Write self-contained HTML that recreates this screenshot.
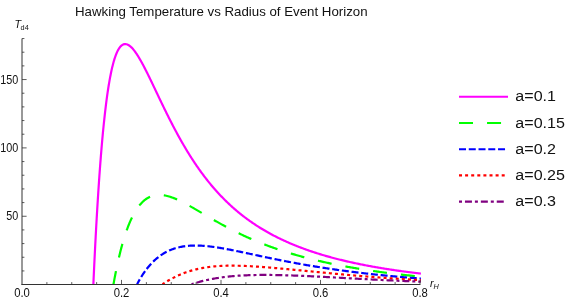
<!DOCTYPE html>
<html><head><meta charset="utf-8"><title>Hawking Temperature vs Radius of Event Horizon</title>
<style>
html,body{margin:0;padding:0;background:#fff;}
body{width:575px;height:300px;overflow:hidden;font-family:"Liberation Sans",sans-serif;}
svg{display:block;}
text{font-family:"Liberation Sans",sans-serif;fill:#111;}
.tk{font-size:12.0px;}
.lg{font-size:15.5px;}
</style></head><body>
<svg width="575" height="300" viewBox="0 0 575 300">
<rect width="575" height="300" fill="#fff"/>
<g style="will-change:transform"><text transform="translate(221.3,15.7) scale(1.038,1)" text-anchor="middle" font-size="12.8">Hawking Temperature vs Radius of Event Horizon</text></g>
<defs><clipPath id="pc"><rect x="0" y="0" width="421.00" height="284.3"/></clipPath></defs>
<g fill="none" stroke-linecap="butt" stroke-linejoin="round" clip-path="url(#pc)">
<path d="M93.37,284.30 L93.41,283.30 L93.46,282.30 L93.50,281.30 L93.55,280.30 L93.59,279.30 L93.64,278.30 L93.68,277.30 L93.73,276.30 L93.78,275.30 L93.82,274.30 L93.87,273.30 L93.92,272.30 L93.96,271.30 L94.01,270.30 L94.06,269.30 L94.10,268.30 L94.15,267.30 L94.20,266.30 L94.24,265.30 L94.29,264.30 L94.34,263.30 L94.39,262.30 L94.44,261.30 L94.48,260.30 L94.53,259.30 L94.58,258.30 L94.63,257.30 L94.68,256.30 L94.73,255.30 L94.78,254.31 L94.83,253.31 L94.88,252.31 L94.93,251.31 L94.98,250.31 L95.03,249.31 L95.08,248.31 L95.13,247.31 L95.18,246.31 L95.23,245.31 L95.28,244.31 L95.33,243.31 L95.39,242.31 L95.44,241.31 L95.49,240.31 L95.54,239.31 L95.60,238.31 L95.65,237.31 L95.70,236.31 L95.75,235.31 L95.81,234.31 L95.86,233.31 L95.92,232.31 L95.97,231.31 L96.02,230.31 L96.08,229.32 L96.13,228.32 L96.19,227.32 L96.24,226.32 L96.30,225.32 L96.35,224.32 L96.41,223.32 L96.47,222.32 L96.52,221.32 L96.58,220.32 L96.64,219.32 L96.69,218.32 L96.75,217.32 L96.81,216.32 L96.87,215.32 L96.93,214.33 L96.98,213.33 L97.04,212.33 L97.10,211.33 L97.16,210.33 L97.22,209.33 L97.28,208.33 L97.34,207.33 L97.40,206.33 L97.46,205.33 L97.52,204.33 L97.58,203.33 L97.65,202.34 L97.71,201.34 L97.77,200.34 L97.83,199.34 L97.89,198.34 L97.96,197.34 L98.02,196.34 L98.09,195.34 L98.15,194.34 L98.21,193.35 L98.28,192.35 L98.34,191.35 L98.41,190.35 L98.47,189.35 L98.54,188.35 L98.61,187.35 L98.67,186.35 L98.74,185.36 L98.81,184.36 L98.88,183.36 L98.94,182.36 L99.01,181.36 L99.08,180.36 L99.15,179.36 L99.22,178.37 L99.29,177.37 L99.36,176.37 L99.43,175.37 L99.50,174.37 L99.58,173.37 L99.65,172.37 L99.72,171.38 L99.79,170.38 L99.87,169.38 L99.94,168.38 L100.01,167.38 L100.09,166.39 L100.16,165.39 L100.24,164.39 L100.32,163.39 L100.39,162.39 L100.47,161.40 L100.55,160.40 L100.63,159.40 L100.70,158.40 L100.78,157.40 L100.86,156.41 L100.94,155.41 L101.02,154.41 L101.11,153.41 L101.19,152.42 L101.27,151.42 L101.35,150.42 L101.44,149.42 L101.52,148.43 L101.60,147.43 L101.69,146.43 L101.78,145.43 L101.86,144.44 L101.95,143.44 L102.04,142.44 L102.13,141.45 L102.21,140.45 L102.30,139.45 L102.39,138.45 L102.49,137.46 L102.58,136.46 L102.67,135.46 L102.76,134.47 L102.86,133.47 L102.95,132.47 L103.05,131.48 L103.14,130.48 L103.24,129.49 L103.34,128.49 L103.44,127.49 L103.54,126.50 L103.64,125.50 L103.74,124.51 L103.84,123.51 L103.94,122.51 L104.05,121.52 L104.15,120.52 L104.26,119.53 L104.37,118.53 L104.47,117.54 L104.58,116.54 L104.69,115.55 L104.80,114.55 L104.92,113.56 L105.03,112.56 L105.14,111.57 L105.26,110.58 L105.38,109.58 L105.50,108.59 L105.62,107.59 L105.74,106.60 L105.86,105.61 L105.98,104.61 L106.11,103.62 L106.23,102.63 L106.36,101.64 L106.49,100.64 L106.62,99.65 L106.75,98.66 L106.89,97.67 L107.02,96.67 L107.16,95.68 L107.30,94.69 L107.44,93.70 L107.59,92.71 L107.73,91.72 L107.88,90.73 L108.03,89.74 L108.18,88.75 L108.33,87.76 L108.49,86.77 L108.65,85.78 L108.81,84.80 L108.97,83.81 L109.14,82.82 L109.31,81.84 L109.48,80.85 L109.65,79.86 L109.83,78.88 L110.01,77.89 L110.20,76.91 L110.39,75.93 L110.58,74.95 L110.77,73.96 L110.97,72.98 L111.18,72.00 L111.39,71.02 L111.60,70.05 L111.82,69.07 L112.04,68.09 L112.27,67.12 L112.51,66.15 L112.75,65.18 L113.00,64.21 L113.26,63.24 L113.52,62.27 L113.79,61.31 L114.07,60.35 L114.37,59.39 L114.67,58.44 L114.98,57.49 L115.30,56.54 L115.64,55.60 L116.00,54.66 L116.37,53.73 L116.76,52.81 L117.17,51.90 L117.60,51.00 L118.06,50.11 L118.56,49.24 L119.09,48.39 L119.66,47.57 L120.28,46.78 L120.96,46.05 L121.71,45.39 L122.54,44.82 L123.44,44.40 L124.41,44.14 L125.41,44.08 L126.40,44.22 L127.35,44.51 L128.26,44.94 L129.11,45.46 L129.92,46.05 L130.69,46.69 L131.42,47.37 L132.12,48.09 L132.79,48.83 L133.44,49.59 L134.06,50.37 L134.67,51.17 L135.27,51.97 L135.84,52.79 L136.41,53.62 L136.96,54.45 L137.51,55.29 L138.04,56.14 L138.57,56.99 L139.08,57.85 L139.59,58.71 L140.10,59.57 L140.60,60.44 L141.09,61.31 L141.57,62.19 L142.06,63.07 L142.53,63.95 L143.01,64.83 L143.48,65.71 L143.94,66.60 L144.40,67.48 L144.86,68.37 L145.32,69.26 L145.78,70.16 L146.23,71.05 L146.68,71.94 L147.12,72.84 L147.57,73.74 L148.01,74.63 L148.46,75.53 L148.90,76.43 L149.34,77.33 L149.77,78.23 L150.21,79.13 L150.65,80.03 L151.08,80.93 L151.52,81.83 L151.95,82.74 L152.38,83.64 L152.81,84.54 L153.25,85.44 L153.68,86.35 L154.11,87.25 L154.54,88.15 L154.97,89.06 L155.40,89.96 L155.83,90.87 L156.26,91.77 L156.69,92.67 L157.12,93.58 L157.55,94.48 L157.98,95.38 L158.41,96.29 L158.84,97.19 L159.27,98.10 L159.70,99.00 L160.14,99.90 L160.57,100.80 L161.00,101.71 L161.44,102.61 L161.87,103.51 L162.31,104.41 L162.74,105.31 L163.18,106.21 L163.62,107.11 L164.05,108.01 L164.49,108.91 L164.93,109.81 L165.37,110.71 L165.82,111.61 L166.26,112.51 L166.70,113.40 L167.15,114.30 L167.59,115.20 L168.04,116.09 L168.49,116.99 L168.94,117.88 L169.39,118.77 L169.84,119.67 L170.30,120.56 L170.75,121.45 L171.21,122.34 L171.66,123.23 L172.12,124.12 L172.58,125.01 L173.05,125.90 L173.51,126.78 L173.98,127.67 L174.44,128.56 L174.91,129.44 L175.38,130.32 L175.85,131.21 L176.33,132.09 L176.80,132.97 L177.28,133.85 L177.76,134.73 L178.24,135.61 L178.72,136.48 L179.21,137.36 L179.70,138.23 L180.18,139.11 L180.67,139.98 L181.17,140.85 L181.66,141.72 L182.16,142.59 L182.66,143.46 L183.16,144.32 L183.66,145.19 L184.17,146.05 L184.68,146.91 L185.19,147.78 L185.70,148.64 L186.21,149.49 L186.73,150.35 L187.25,151.21 L187.77,152.06 L188.30,152.91 L188.82,153.76 L189.35,154.61 L189.88,155.46 L190.42,156.31 L190.95,157.15 L191.49,158.00 L192.04,158.84 L192.58,159.68 L193.13,160.52 L193.68,161.35 L194.23,162.19 L194.79,163.02 L195.34,163.85 L195.91,164.68 L196.47,165.51 L197.04,166.33 L197.61,167.15 L198.18,167.97 L198.75,168.79 L199.33,169.61 L199.91,170.43 L200.50,171.24 L201.09,172.05 L201.68,172.86 L202.27,173.66 L202.87,174.47 L203.47,175.27 L204.07,176.07 L204.67,176.86 L205.28,177.66 L205.89,178.45 L206.51,179.24 L207.13,180.03 L207.75,180.81 L208.38,181.59 L209.00,182.37 L209.64,183.15 L210.27,183.92 L210.91,184.69 L211.55,185.46 L212.19,186.23 L212.84,186.99 L213.49,187.75 L214.15,188.51 L214.81,189.26 L215.47,190.01 L216.13,190.76 L216.80,191.51 L217.47,192.25 L218.15,192.99 L218.83,193.72 L219.51,194.45 L220.20,195.18 L220.88,195.91 L221.58,196.63 L222.27,197.35 L222.97,198.07 L223.68,198.78 L224.38,199.49 L225.09,200.20 L225.80,200.90 L226.52,201.60 L227.24,202.29 L227.96,202.98 L228.69,203.67 L229.42,204.36 L230.15,205.04 L230.89,205.72 L231.63,206.39 L232.38,207.06 L233.12,207.72 L233.87,208.39 L234.63,209.05 L235.39,209.70 L236.15,210.35 L236.91,211.00 L237.68,211.64 L238.45,212.28 L239.22,212.91 L240.00,213.54 L240.78,214.17 L241.56,214.79 L242.35,215.41 L243.14,216.03 L243.93,216.64 L244.73,217.25 L245.53,217.85 L246.33,218.45 L247.13,219.04 L247.94,219.63 L248.75,220.22 L249.57,220.80 L250.39,221.38 L251.21,221.95 L252.03,222.52 L252.85,223.09 L253.68,223.65 L254.51,224.21 L255.35,224.76 L256.19,225.31 L257.03,225.85 L257.87,226.39 L258.71,226.93 L259.56,227.46 L260.41,227.99 L261.26,228.51 L262.12,229.03 L262.98,229.55 L263.84,230.06 L264.70,230.57 L265.57,231.07 L266.43,231.57 L267.30,232.06 L268.18,232.55 L269.05,233.04 L269.93,233.52 L270.81,234.00 L271.69,234.48 L272.57,234.95 L273.46,235.41 L274.35,235.88 L275.24,236.33 L276.13,236.79 L277.02,237.24 L277.92,237.69 L278.81,238.13 L279.71,238.57 L280.62,239.00 L281.52,239.43 L282.42,239.86 L283.33,240.28 L284.24,240.70 L285.15,241.12 L286.06,241.53 L286.98,241.94 L287.89,242.35 L288.81,242.75 L289.73,243.14 L290.65,243.54 L291.57,243.93 L292.49,244.32 L293.42,244.70 L294.34,245.08 L295.27,245.46 L296.20,245.83 L297.13,246.20 L298.06,246.56 L298.99,246.93 L299.93,247.29 L300.86,247.64 L301.80,247.99 L302.74,248.34 L303.68,248.69 L304.62,249.03 L305.56,249.37 L306.50,249.71 L307.45,250.04 L308.39,250.37 L309.34,250.70 L310.28,251.03 L311.23,251.35 L312.18,251.66 L313.13,251.98 L314.08,252.29 L315.03,252.60 L315.99,252.91 L316.94,253.21 L317.89,253.51 L318.85,253.81 L319.81,254.11 L320.76,254.40 L321.72,254.69 L322.68,254.97 L323.64,255.26 L324.60,255.54 L325.56,255.82 L326.52,256.10 L327.49,256.37 L328.45,256.64 L329.41,256.91 L330.38,257.18 L331.34,257.44 L332.31,257.70 L333.28,257.96 L334.25,258.22 L335.21,258.47 L336.18,258.72 L337.15,258.97 L338.12,259.22 L339.09,259.46 L340.06,259.70 L341.04,259.94 L342.01,260.18 L342.98,260.42 L343.95,260.65 L344.93,260.88 L345.90,261.11 L346.88,261.34 L347.85,261.56 L348.83,261.79 L349.80,262.01 L350.78,262.23 L351.76,262.44 L352.74,262.66 L353.71,262.87 L354.69,263.08 L355.67,263.29 L356.65,263.50 L357.63,263.70 L358.61,263.91 L359.59,264.11 L360.57,264.31 L361.55,264.51 L362.53,264.70 L363.52,264.90 L364.50,265.09 L365.48,265.28 L366.46,265.47 L367.45,265.65 L368.43,265.84 L369.41,266.02 L370.40,266.20 L371.38,266.38 L372.37,266.56 L373.35,266.74 L374.34,266.92 L375.32,267.09 L376.31,267.26 L377.30,267.43 L378.28,267.60 L379.27,267.77 L380.26,267.94 L381.24,268.10 L382.23,268.26 L383.22,268.42 L384.21,268.58 L385.20,268.74 L386.19,268.90 L387.17,269.06 L388.16,269.21 L389.15,269.36 L390.14,269.51 L391.13,269.67 L392.12,269.81 L393.11,269.96 L394.10,270.11 L395.09,270.25 L396.08,270.40 L397.07,270.54 L398.06,270.68 L399.05,270.82 L400.05,270.96 L401.04,271.09 L402.03,271.23 L403.02,271.36 L404.01,271.50 L405.01,271.63 L406.00,271.76 L406.99,271.89 L407.98,272.02 L408.98,272.15 L409.97,272.27 L410.96,272.40 L411.95,272.52 L412.95,272.65 L413.94,272.77 L414.94,272.89 L415.93,273.01 L416.92,273.13 L417.92,273.24 L418.91,273.36 L419.91,273.47 L420.90,273.59" stroke="#ff00ff" stroke-width="2.2"/>
<path d="M113.48,284.30 L113.66,283.32 L113.84,282.33 L114.01,281.35 L114.20,280.36 L114.38,279.38 L114.56,278.40 L114.75,277.41 L114.93,276.43 L115.12,275.45 L115.31,274.47 L115.51,273.48 L115.70,272.50 L115.90,271.52 L116.09,270.54 L116.29,269.56 L116.50,268.58 L116.70,267.60 L116.91,266.62 L117.11,265.64 L117.32,264.67 L117.54,263.69 L117.75,262.71 L117.97,261.73 L118.19,260.76 L118.41,259.78 L118.63,258.81 L118.86,257.83 L119.08,256.86 L119.32,255.89 L119.55,254.91 L119.79,253.94 L120.02,252.97 L120.27,252.00 L120.51,251.03 L120.76,250.06 L121.01,249.09 L121.26,248.12 L121.52,247.16 L121.78,246.19 L122.05,245.23 L122.31,244.26 L122.59,243.30 L122.86,242.34 L123.14,241.38 L123.42,240.42 L123.71,239.46 L124.00,238.50 L124.29,237.54 L124.59,236.59 L124.90,235.64 L125.21,234.68 L125.52,233.73 L125.84,232.79 L126.16,231.84 L126.49,230.90 L126.82,229.95 L127.16,229.01 L127.51,228.07 L127.86,227.14 L128.22,226.20 L128.59,225.27 L128.96,224.34 L129.34,223.42 L129.72,222.49 L130.12,221.57 L130.52,220.66 L130.93,219.75 L131.35,218.84 L131.78,217.93 L132.21,217.03 L132.66,216.14 L133.12,215.25 L133.59,214.36 L134.07,213.49 L134.56,212.62 L135.06,211.75 L135.58,210.89 L136.11,210.04 L136.65,209.21 L137.21,208.38 L137.78,207.56 L138.37,206.75 L138.98,205.95 L139.60,205.17 L140.24,204.40 L140.91,203.65 L141.59,202.92 L142.29,202.21 L143.01,201.51 L143.75,200.84 L144.52,200.20 L145.31,199.58 L146.12,199.00 L146.95,198.44 L147.80,197.92 L148.68,197.44 L149.57,196.99 L150.49,196.59 L151.42,196.22 L152.37,195.90 L153.33,195.63 L154.30,195.40 L155.29,195.21 L156.28,195.07 L157.27,194.97 L158.27,194.91 L159.27,194.89 L160.27,194.91 L161.27,194.97 L162.27,195.06 L163.26,195.18 L164.25,195.34 L165.23,195.52 L166.21,195.73 L167.18,195.96 L168.15,196.22 L169.11,196.49 L170.07,196.79 L171.02,197.10 L171.96,197.43 L172.90,197.78 L173.83,198.14 L174.76,198.51 L175.68,198.89 L176.60,199.29 L177.52,199.69 L178.43,200.11 L179.33,200.53 L180.24,200.97 L181.13,201.41 L182.03,201.85 L182.92,202.31 L183.81,202.76 L184.70,203.23 L185.58,203.70 L186.46,204.17 L187.34,204.65 L188.22,205.13 L189.09,205.62 L189.97,206.10 L190.84,206.60 L191.71,207.09 L192.58,207.59 L193.44,208.08 L194.31,208.58 L195.18,209.08 L196.04,209.59 L196.91,210.09 L197.77,210.60 L198.63,211.10 L199.50,211.61 L200.36,212.11 L201.22,212.62 L202.08,213.13 L202.94,213.64 L203.81,214.14 L204.67,214.65 L205.53,215.16 L206.39,215.66 L207.26,216.17 L208.12,216.67 L208.99,217.18 L209.85,217.68 L210.72,218.18 L211.58,218.69 L212.45,219.19 L213.31,219.68 L214.18,220.18 L215.05,220.68 L215.92,221.17 L216.79,221.66 L217.66,222.16 L218.54,222.65 L219.41,223.13 L220.28,223.62 L221.16,224.10 L222.04,224.59 L222.91,225.07 L223.79,225.55 L224.67,226.02 L225.55,226.50 L226.43,226.97 L227.32,227.44 L228.20,227.91 L229.09,228.37 L229.97,228.83 L230.86,229.29 L231.75,229.75 L232.64,230.21 L233.53,230.66 L234.43,231.11 L235.32,231.56 L236.22,232.01 L237.11,232.45 L238.01,232.89 L238.91,233.33 L239.81,233.76 L240.71,234.20 L241.62,234.63 L242.52,235.05 L243.43,235.48 L244.33,235.90 L245.24,236.32 L246.15,236.74 L247.06,237.15 L247.98,237.56 L248.89,237.97 L249.80,238.37 L250.72,238.78 L251.64,239.18 L252.55,239.57 L253.47,239.97 L254.39,240.36 L255.32,240.75 L256.24,241.14 L257.16,241.52 L258.09,241.90 L259.01,242.28 L259.94,242.65 L260.87,243.03 L261.80,243.39 L262.73,243.76 L263.66,244.13 L264.60,244.49 L265.53,244.85 L266.46,245.20 L267.40,245.55 L268.34,245.91 L269.28,246.25 L270.21,246.60 L271.15,246.94 L272.10,247.28 L273.04,247.62 L273.98,247.95 L274.92,248.28 L275.87,248.61 L276.81,248.94 L277.76,249.26 L278.71,249.58 L279.66,249.90 L280.61,250.22 L281.55,250.53 L282.51,250.84 L283.46,251.15 L284.41,251.46 L285.36,251.76 L286.32,252.06 L287.27,252.36 L288.23,252.66 L289.18,252.95 L290.14,253.25 L291.10,253.54 L292.06,253.82 L293.02,254.11 L293.98,254.39 L294.94,254.67 L295.90,254.95 L296.86,255.22 L297.82,255.50 L298.78,255.77 L299.75,256.03 L300.71,256.30 L301.68,256.57 L302.64,256.83 L303.61,257.09 L304.57,257.35 L305.54,257.60 L306.51,257.85 L307.48,258.11 L308.45,258.36 L309.42,258.60 L310.39,258.85 L311.36,259.09 L312.33,259.33 L313.30,259.57 L314.27,259.81 L315.24,260.04 L316.22,260.28 L317.19,260.51 L318.16,260.74 L319.14,260.97 L320.11,261.19 L321.09,261.42 L322.06,261.64 L323.04,261.86 L324.01,262.08 L324.99,262.29 L325.97,262.51 L326.94,262.72 L327.92,262.93 L328.90,263.14 L329.88,263.35 L330.86,263.56 L331.84,263.76 L332.82,263.97 L333.80,264.17 L334.78,264.37 L335.76,264.56 L336.74,264.76 L337.72,264.96 L338.70,265.15 L339.68,265.34 L340.67,265.53 L341.65,265.72 L342.63,265.91 L343.61,266.09 L344.60,266.28 L345.58,266.46 L346.57,266.64 L347.55,266.82 L348.53,267.00 L349.52,267.17 L350.50,267.35 L351.49,267.52 L352.47,267.69 L353.46,267.86 L354.45,268.03 L355.43,268.20 L356.42,268.37 L357.41,268.53 L358.39,268.70 L359.38,268.86 L360.37,269.02 L361.35,269.18 L362.34,269.34 L363.33,269.50 L364.32,269.65 L365.31,269.81 L366.30,269.96 L367.28,270.11 L368.27,270.26 L369.26,270.41 L370.25,270.56 L371.24,270.71 L372.23,270.85 L373.22,271.00 L374.21,271.14 L375.20,271.28 L376.19,271.42 L377.18,271.56 L378.17,271.70 L379.16,271.84 L380.15,271.98 L381.15,272.11 L382.14,272.25 L383.13,272.38 L384.12,272.51 L385.11,272.64 L386.10,272.77 L387.10,272.90 L388.09,273.03 L389.08,273.15 L390.07,273.28 L391.07,273.40 L392.06,273.53 L393.05,273.65 L394.05,273.77 L395.04,273.89 L396.03,274.01 L397.03,274.13 L398.02,274.24 L399.01,274.36 L400.01,274.47 L401.00,274.59 L401.99,274.70 L402.99,274.81 L403.98,274.92 L404.98,275.03 L405.97,275.14 L406.97,275.25 L407.96,275.36 L408.96,275.46 L409.95,275.57 L410.95,275.67 L411.94,275.77 L412.94,275.88 L413.93,275.98 L414.93,276.08 L415.92,276.18 L416.92,276.28 L417.91,276.37 L418.91,276.47 L419.90,276.57 L420.90,276.66" stroke="#00ff00" stroke-width="2.2" stroke-dasharray="14 14.05" stroke-dashoffset="0.6"/>
<path d="M137.09,284.30 L137.55,283.41 L138.02,282.53 L138.50,281.65 L138.98,280.77 L139.48,279.90 L139.98,279.03 L140.49,278.17 L141.00,277.31 L141.53,276.46 L142.06,275.61 L142.60,274.77 L143.15,273.93 L143.71,273.10 L144.28,272.27 L144.86,271.45 L145.44,270.64 L146.04,269.84 L146.65,269.04 L147.26,268.25 L147.89,267.47 L148.52,266.69 L149.17,265.93 L149.83,265.17 L150.50,264.42 L151.17,263.69 L151.86,262.96 L152.56,262.24 L153.27,261.54 L154.00,260.84 L154.73,260.16 L155.47,259.49 L156.23,258.83 L157.00,258.19 L157.77,257.56 L158.56,256.94 L159.36,256.33 L160.17,255.75 L160.99,255.17 L161.83,254.61 L162.67,254.07 L163.52,253.54 L164.38,253.03 L165.25,252.54 L166.13,252.06 L167.02,251.60 L167.92,251.16 L168.83,250.74 L169.75,250.33 L170.67,249.94 L171.60,249.57 L172.54,249.21 L173.48,248.88 L174.43,248.56 L175.39,248.26 L176.35,247.97 L177.31,247.71 L178.28,247.46 L179.26,247.22 L180.23,247.01 L181.22,246.81 L182.20,246.62 L183.19,246.46 L184.18,246.30 L185.17,246.17 L186.17,246.04 L187.16,245.93 L188.16,245.84 L189.16,245.76 L190.16,245.69 L191.16,245.63 L192.16,245.59 L193.16,245.56 L194.16,245.54 L195.16,245.53 L196.16,245.53 L197.17,245.54 L198.17,245.57 L199.17,245.60 L200.17,245.64 L201.17,245.69 L202.17,245.75 L203.17,245.81 L204.17,245.89 L205.17,245.97 L206.16,246.06 L207.16,246.15 L208.16,246.26 L209.15,246.36 L210.15,246.48 L211.14,246.60 L212.14,246.73 L213.13,246.86 L214.12,246.99 L215.12,247.13 L216.11,247.28 L217.10,247.43 L218.09,247.58 L219.08,247.74 L220.07,247.90 L221.05,248.07 L222.04,248.24 L223.03,248.41 L224.01,248.59 L225.00,248.76 L225.99,248.94 L226.97,249.13 L227.95,249.31 L228.94,249.50 L229.92,249.69 L230.91,249.88 L231.89,250.07 L232.87,250.27 L233.85,250.47 L234.84,250.67 L235.82,250.86 L236.80,251.07 L237.78,251.27 L238.76,251.47 L239.74,251.68 L240.72,251.88 L241.70,252.09 L242.68,252.29 L243.66,252.50 L244.64,252.71 L245.62,252.92 L246.60,253.13 L247.58,253.33 L248.56,253.54 L249.54,253.75 L250.52,253.96 L251.50,254.17 L252.48,254.38 L253.46,254.59 L254.44,254.80 L255.42,255.01 L256.40,255.22 L257.38,255.43 L258.36,255.64 L259.34,255.85 L260.32,256.06 L261.30,256.27 L262.28,256.47 L263.26,256.68 L264.24,256.89 L265.22,257.09 L266.20,257.30 L267.18,257.51 L268.16,257.71 L269.14,257.91 L270.12,258.12 L271.10,258.32 L272.08,258.52 L273.07,258.72 L274.05,258.93 L275.03,259.13 L276.01,259.32 L276.99,259.52 L277.98,259.72 L278.96,259.92 L279.94,260.11 L280.92,260.31 L281.91,260.50 L282.89,260.70 L283.87,260.89 L284.85,261.08 L285.84,261.27 L286.82,261.46 L287.81,261.65 L288.79,261.84 L289.77,262.02 L290.76,262.21 L291.74,262.39 L292.73,262.58 L293.71,262.76 L294.70,262.94 L295.68,263.12 L296.67,263.31 L297.65,263.48 L298.64,263.66 L299.63,263.84 L300.61,264.02 L301.60,264.19 L302.59,264.37 L303.57,264.54 L304.56,264.71 L305.55,264.88 L306.53,265.05 L307.52,265.22 L308.51,265.39 L309.50,265.56 L310.48,265.72 L311.47,265.89 L312.46,266.05 L313.45,266.21 L314.44,266.38 L315.43,266.54 L316.42,266.70 L317.40,266.86 L318.39,267.01 L319.38,267.17 L320.37,267.33 L321.36,267.48 L322.35,267.64 L323.34,267.79 L324.33,267.94 L325.32,268.09 L326.31,268.24 L327.30,268.39 L328.29,268.54 L329.29,268.69 L330.28,268.84 L331.27,268.98 L332.26,269.12 L333.25,269.27 L334.24,269.41 L335.23,269.55 L336.23,269.69 L337.22,269.83 L338.21,269.97 L339.20,270.11 L340.19,270.25 L341.19,270.38 L342.18,270.52 L343.17,270.65 L344.17,270.78 L345.16,270.92 L346.15,271.05 L347.15,271.18 L348.14,271.31 L349.13,271.44 L350.13,271.56 L351.12,271.69 L352.11,271.82 L353.11,271.94 L354.10,272.07 L355.10,272.19 L356.09,272.31 L357.08,272.43 L358.08,272.55 L359.07,272.67 L360.07,272.79 L361.06,272.91 L362.06,273.03 L363.05,273.14 L364.05,273.26 L365.04,273.37 L366.04,273.49 L367.03,273.60 L368.03,273.71 L369.03,273.82 L370.02,273.94 L371.02,274.05 L372.01,274.15 L373.01,274.26 L374.00,274.37 L375.00,274.48 L376.00,274.58 L376.99,274.69 L377.99,274.79 L378.99,274.89 L379.98,275.00 L380.98,275.10 L381.98,275.20 L382.97,275.30 L383.97,275.40 L384.97,275.50 L385.96,275.60 L386.96,275.69 L387.96,275.79 L388.95,275.89 L389.95,275.98 L390.95,276.07 L391.95,276.17 L392.94,276.26 L393.94,276.35 L394.94,276.44 L395.94,276.53 L396.94,276.62 L397.93,276.71 L398.93,276.80 L399.93,276.89 L400.93,276.98 L401.93,277.06 L402.92,277.15 L403.92,277.23 L404.92,277.32 L405.92,277.40 L406.92,277.48 L407.92,277.56 L408.91,277.65 L409.91,277.73 L410.91,277.81 L411.91,277.88 L412.91,277.96 L413.91,278.04 L414.91,278.12 L415.90,278.19 L416.90,278.27 L417.90,278.35 L418.90,278.42 L419.90,278.49 L420.90,278.57" stroke="#0000ff" stroke-width="2.2" stroke-dasharray="7 2.76" stroke-dashoffset="1.4"/>
<path d="M162.50,284.30 L163.33,283.74 L164.17,283.19 L165.01,282.65 L165.86,282.11 L166.71,281.58 L167.57,281.06 L168.43,280.55 L169.29,280.04 L170.16,279.54 L171.04,279.06 L171.92,278.57 L172.80,278.10 L173.69,277.64 L174.59,277.18 L175.48,276.74 L176.39,276.30 L177.29,275.87 L178.20,275.46 L179.12,275.05 L180.04,274.65 L180.96,274.26 L181.89,273.88 L182.82,273.51 L183.76,273.14 L184.69,272.79 L185.64,272.45 L186.58,272.12 L187.53,271.79 L188.48,271.48 L189.44,271.18 L190.40,270.88 L191.36,270.60 L192.32,270.32 L193.29,270.06 L194.26,269.80 L195.23,269.55 L196.20,269.31 L197.18,269.08 L198.16,268.86 L199.14,268.65 L200.12,268.45 L201.10,268.25 L202.09,268.07 L203.07,267.89 L204.06,267.72 L205.05,267.56 L206.04,267.40 L207.03,267.26 L208.03,267.12 L209.02,266.99 L210.01,266.87 L211.01,266.75 L212.01,266.64 L213.00,266.54 L214.00,266.44 L215.00,266.35 L216.00,266.27 L217.00,266.19 L218.00,266.12 L219.00,266.05 L220.00,265.99 L221.00,265.94 L222.00,265.89 L223.00,265.85 L224.01,265.81 L225.01,265.78 L226.01,265.75 L227.01,265.72 L228.01,265.70 L229.02,265.69 L230.02,265.68 L231.02,265.67 L232.02,265.67 L233.03,265.67 L234.03,265.68 L235.03,265.69 L236.03,265.70 L237.04,265.72 L238.04,265.74 L239.04,265.76 L240.04,265.79 L241.05,265.82 L242.05,265.85 L243.05,265.88 L244.05,265.92 L245.05,265.96 L246.05,266.00 L247.06,266.05 L248.06,266.10 L249.06,266.15 L250.06,266.20 L251.06,266.25 L252.06,266.31 L253.06,266.37 L254.06,266.43 L255.06,266.49 L256.06,266.55 L257.06,266.62 L258.06,266.69 L259.06,266.76 L260.06,266.83 L261.06,266.90 L262.06,266.97 L263.06,267.05 L264.06,267.12 L265.06,267.20 L266.06,267.28 L267.06,267.36 L268.06,267.44 L269.06,267.52 L270.06,267.60 L271.06,267.68 L272.06,267.77 L273.06,267.85 L274.05,267.94 L275.05,268.03 L276.05,268.12 L277.05,268.20 L278.05,268.29 L279.05,268.38 L280.05,268.47 L281.04,268.56 L282.04,268.66 L283.04,268.75 L284.04,268.84 L285.04,268.93 L286.04,269.03 L287.03,269.12 L288.03,269.21 L289.03,269.31 L290.03,269.40 L291.03,269.50 L292.02,269.59 L293.02,269.69 L294.02,269.79 L295.02,269.88 L296.01,269.98 L297.01,270.07 L298.01,270.17 L299.01,270.27 L300.01,270.36 L301.00,270.46 L302.00,270.56 L303.00,270.66 L304.00,270.75 L305.00,270.85 L305.99,270.95 L306.99,271.04 L307.99,271.14 L308.99,271.24 L309.98,271.34 L310.98,271.43 L311.98,271.53 L312.98,271.63 L313.98,271.72 L314.97,271.82 L315.97,271.92 L316.97,272.01 L317.97,272.11 L318.96,272.21 L319.96,272.30 L320.96,272.40 L321.96,272.49 L322.96,272.59 L323.95,272.68 L324.95,272.78 L325.95,272.87 L326.95,272.97 L327.95,273.06 L328.94,273.16 L329.94,273.25 L330.94,273.34 L331.94,273.44 L332.94,273.53 L333.93,273.62 L334.93,273.72 L335.93,273.81 L336.93,273.90 L337.93,273.99 L338.93,274.08 L339.92,274.17 L340.92,274.26 L341.92,274.35 L342.92,274.44 L343.92,274.53 L344.92,274.62 L345.92,274.71 L346.91,274.80 L347.91,274.89 L348.91,274.98 L349.91,275.06 L350.91,275.15 L351.91,275.24 L352.91,275.32 L353.90,275.41 L354.90,275.50 L355.90,275.58 L356.90,275.67 L357.90,275.75 L358.90,275.83 L359.90,275.92 L360.90,276.00 L361.90,276.08 L362.90,276.17 L363.89,276.25 L364.89,276.33 L365.89,276.41 L366.89,276.49 L367.89,276.57 L368.89,276.65 L369.89,276.73 L370.89,276.81 L371.89,276.89 L372.89,276.97 L373.89,277.05 L374.89,277.12 L375.89,277.20 L376.89,277.28 L377.89,277.35 L378.89,277.43 L379.89,277.50 L380.88,277.58 L381.88,277.65 L382.88,277.72 L383.88,277.80 L384.88,277.87 L385.88,277.94 L386.88,278.01 L387.88,278.08 L388.88,278.16 L389.88,278.23 L390.88,278.30 L391.88,278.36 L392.88,278.43 L393.88,278.50 L394.88,278.57 L395.88,278.64 L396.88,278.70 L397.89,278.77 L398.89,278.84 L399.89,278.90 L400.89,278.97 L401.89,279.03 L402.89,279.10 L403.89,279.16 L404.89,279.22 L405.89,279.28 L406.89,279.35 L407.89,279.41 L408.89,279.47 L409.89,279.53 L410.89,279.59 L411.89,279.65 L412.89,279.71 L413.89,279.77 L414.89,279.83 L415.90,279.88 L416.90,279.94 L417.90,280.00 L418.90,280.05 L419.90,280.11 L420.90,280.16" stroke="#ff0000" stroke-width="2.2" stroke-dasharray="3 3.10" stroke-dashoffset="0.45"/>
<path d="M191.51,284.30 L192.46,283.98 L193.41,283.67 L194.36,283.37 L195.32,283.07 L196.28,282.78 L197.24,282.50 L198.20,282.22 L199.17,281.95 L200.14,281.68 L201.10,281.43 L202.07,281.18 L203.05,280.93 L204.02,280.69 L204.99,280.46 L205.97,280.23 L206.95,280.01 L207.93,279.80 L208.91,279.59 L209.89,279.39 L210.87,279.19 L211.85,279.00 L212.84,278.81 L213.82,278.63 L214.81,278.46 L215.80,278.29 L216.79,278.13 L217.78,277.97 L218.77,277.82 L219.76,277.67 L220.75,277.53 L221.74,277.39 L222.74,277.25 L223.73,277.13 L224.72,277.00 L225.72,276.88 L226.72,276.77 L227.71,276.66 L228.71,276.55 L229.70,276.45 L230.70,276.35 L231.70,276.26 L232.70,276.17 L233.70,276.08 L234.69,276.00 L235.69,275.92 L236.69,275.85 L237.69,275.77 L238.69,275.71 L239.69,275.64 L240.69,275.58 L241.69,275.52 L242.69,275.47 L243.69,275.42 L244.70,275.37 L245.70,275.32 L246.70,275.28 L247.70,275.24 L248.70,275.20 L249.70,275.17 L250.70,275.14 L251.71,275.11 L252.71,275.08 L253.71,275.06 L254.71,275.04 L255.71,275.02 L256.71,275.00 L257.72,274.98 L258.72,274.97 L259.72,274.96 L260.72,274.95 L261.72,274.95 L262.73,274.94 L263.73,274.94 L264.73,274.94 L265.73,274.94 L266.74,274.94 L267.74,274.95 L268.74,274.95 L269.74,274.96 L270.74,274.97 L271.75,274.98 L272.75,274.99 L273.75,275.01 L274.75,275.02 L275.75,275.04 L276.76,275.06 L277.76,275.08 L278.76,275.10 L279.76,275.12 L280.76,275.14 L281.76,275.17 L282.77,275.19 L283.77,275.22 L284.77,275.25 L285.77,275.28 L286.77,275.31 L287.77,275.34 L288.78,275.37 L289.78,275.40 L290.78,275.44 L291.78,275.47 L292.78,275.51 L293.78,275.54 L294.79,275.58 L295.79,275.62 L296.79,275.66 L297.79,275.70 L298.79,275.74 L299.79,275.78 L300.79,275.82 L301.79,275.86 L302.80,275.91 L303.80,275.95 L304.80,275.99 L305.80,276.04 L306.80,276.08 L307.80,276.13 L308.80,276.18 L309.80,276.22 L310.80,276.27 L311.81,276.32 L312.81,276.36 L313.81,276.41 L314.81,276.46 L315.81,276.51 L316.81,276.56 L317.81,276.61 L318.81,276.66 L319.81,276.71 L320.81,276.76 L321.81,276.81 L322.81,276.86 L323.82,276.92 L324.82,276.97 L325.82,277.02 L326.82,277.07 L327.82,277.13 L328.82,277.18 L329.82,277.23 L330.82,277.28 L331.82,277.34 L332.82,277.39 L333.82,277.44 L334.82,277.50 L335.82,277.55 L336.82,277.61 L337.82,277.66 L338.83,277.71 L339.83,277.77 L340.83,277.82 L341.83,277.88 L342.83,277.93 L343.83,277.99 L344.83,278.04 L345.83,278.09 L346.83,278.15 L347.83,278.20 L348.83,278.26 L349.83,278.31 L350.83,278.37 L351.83,278.42 L352.83,278.47 L353.83,278.53 L354.84,278.58 L355.84,278.64 L356.84,278.69 L357.84,278.74 L358.84,278.80 L359.84,278.85 L360.84,278.90 L361.84,278.96 L362.84,279.01 L363.84,279.06 L364.84,279.12 L365.84,279.17 L366.84,279.22 L367.84,279.27 L368.85,279.33 L369.85,279.38 L370.85,279.43 L371.85,279.48 L372.85,279.53 L373.85,279.59 L374.85,279.64 L375.85,279.69 L376.85,279.74 L377.85,279.79 L378.85,279.84 L379.85,279.89 L380.85,279.94 L381.86,279.99 L382.86,280.04 L383.86,280.09 L384.86,280.14 L385.86,280.18 L386.86,280.23 L387.86,280.28 L388.86,280.33 L389.86,280.38 L390.86,280.42 L391.87,280.47 L392.87,280.52 L393.87,280.56 L394.87,280.61 L395.87,280.65 L396.87,280.70 L397.87,280.75 L398.87,280.79 L399.87,280.83 L400.87,280.88 L401.88,280.92 L402.88,280.97 L403.88,281.01 L404.88,281.05 L405.88,281.10 L406.88,281.14 L407.88,281.18 L408.88,281.22 L409.89,281.26 L410.89,281.30 L411.89,281.35 L412.89,281.39 L413.89,281.43 L414.89,281.47 L415.89,281.50 L416.89,281.54 L417.90,281.58 L418.90,281.62 L419.90,281.66 L420.90,281.70" stroke="#800080" stroke-width="2.2" stroke-dasharray="3 2.95 7 2.95" stroke-dashoffset="0.7"/>
</g>
<g fill="none" stroke="#333" stroke-width="1.0">
<path d="M22.0,38.54 V285.0 M21.5,284.5 H420.40"/>
<path d="M46.88,284.5 v-2.4 M71.75,284.5 v-2.4 M96.63,284.5 v-2.4 M121.50,284.5 v-4.6 M146.38,284.5 v-2.4 M171.25,284.5 v-2.4 M196.13,284.5 v-2.4 M221.00,284.5 v-4.6 M245.88,284.5 v-2.4 M270.75,284.5 v-2.4 M295.62,284.5 v-2.4 M320.50,284.5 v-4.6 M345.38,284.5 v-2.4 M370.25,284.5 v-2.4 M395.12,284.5 v-2.4 M420.00,284.5 v-4.6 M22.0,270.93 h2.4 M22.0,257.26 h2.4 M22.0,243.59 h2.4 M22.0,229.92 h2.4 M22.0,216.25 h4.6 M22.0,202.58 h2.4 M22.0,188.91 h2.4 M22.0,175.24 h2.4 M22.0,161.57 h2.4 M22.0,147.90 h4.6 M22.0,134.23 h2.4 M22.0,120.56 h2.4 M22.0,106.89 h2.4 M22.0,93.22 h2.4 M22.0,79.55 h4.6 M22.0,65.88 h2.4 M22.0,52.21 h2.4 M22.0,38.54 h2.4" stroke="#333" stroke-width="0.8"/>
</g>
<g class="tk" text-anchor="middle" style="will-change:transform">
<text transform="translate(22.00,296.5) scale(0.94,1)">0.0</text>
<text transform="translate(121.50,296.5) scale(0.94,1)">0.2</text>
<text transform="translate(221.00,296.5) scale(0.94,1)">0.4</text>
<text transform="translate(320.50,296.5) scale(0.94,1)">0.6</text>
<text transform="translate(420.00,296.5) scale(0.94,1)">0.8</text>
</g>
<g class="tk" text-anchor="end" style="will-change:transform">
<text transform="translate(18.2,220.25) scale(0.9,1)">50</text>
<text transform="translate(18.2,151.90) scale(0.9,1)">100</text>
<text transform="translate(18.2,83.55) scale(0.9,1)">150</text>
</g>
<g style="will-change:transform"><text x="14.6" y="27.7" font-size="10.8" font-style="italic">T<tspan font-size="7.3" font-style="normal" dx="-0.6" dy="2.1">d4</tspan></text>
<text x="430" y="286.9" font-size="10.8" font-style="italic">r<tspan font-size="7.3" dx="-0.2" dy="1.9">H</tspan></text></g>
<g fill="none" stroke-width="2.1">
<path d="M459,96.8 H508" stroke="#ff00ff"/>
<path d="M459,123.0 H506.4" stroke="#00ff00" stroke-dasharray="14 14.05"/>
<path d="M459,149.2 H506.4" stroke="#0000ff" stroke-dasharray="7 2.76"/>
<path d="M459,175.4 H506.4" stroke="#ff0000" stroke-dasharray="3 3.10"/>
<path d="M459,201.6 H506.4" stroke="#800080" stroke-dasharray="3 2.95 7 2.95"/>
</g>
<g class="lg" style="will-change:transform">
<text transform="translate(515.3,101.4) scale(1.038,1)">a=0.1</text>
<text transform="translate(515.3,127.55) scale(1.038,1)">a=0.15</text>
<text transform="translate(515.3,153.7) scale(1.038,1)">a=0.2</text>
<text transform="translate(515.3,179.85) scale(1.038,1)">a=0.25</text>
<text transform="translate(515.3,206.0) scale(1.038,1)">a=0.3</text>
</g>
</svg>
</body></html>
